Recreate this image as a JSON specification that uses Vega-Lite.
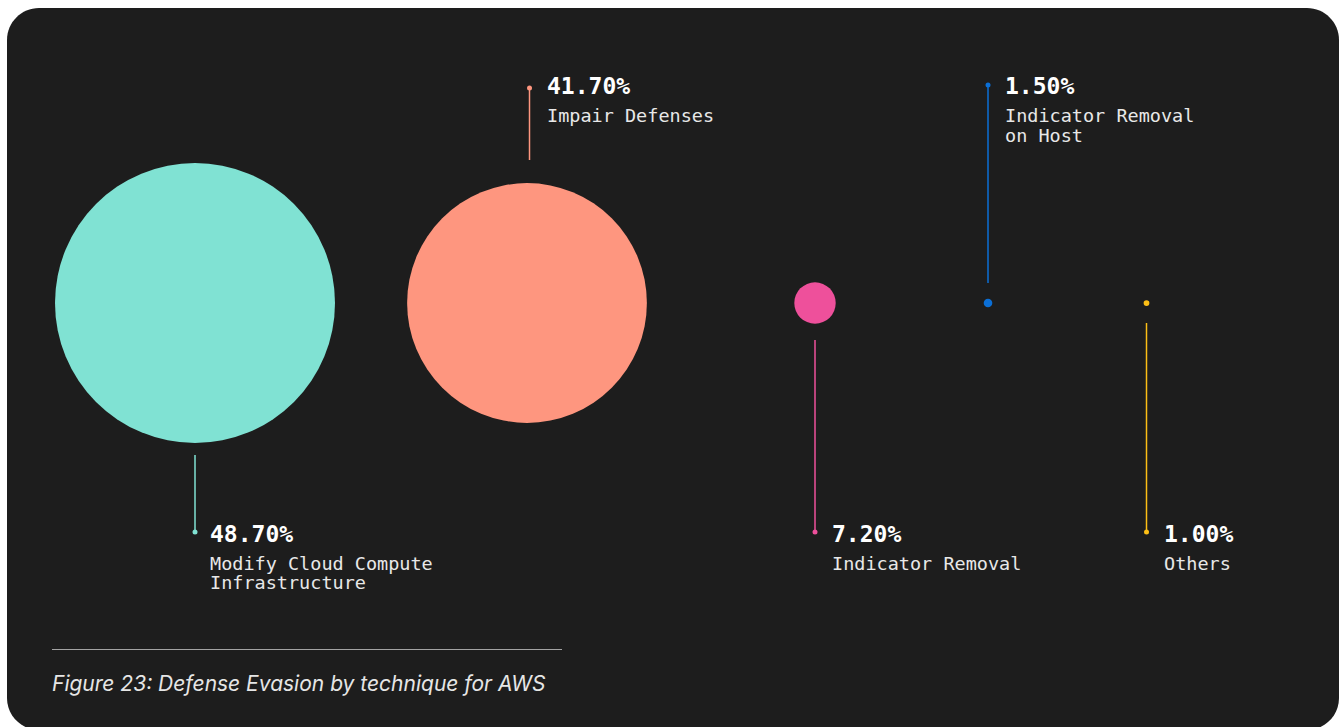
{
  "$schema": "https://vega.github.io/schema/vega-lite/v6.json",
  "width": 1340,
  "height": 727,
  "autosize": {"type": "none"},
  "padding": 0,
  "background": "#ffffff",
  "config": {"view": {"stroke": null}},
  "datasets": {
    "panel": [{"x0": 7, "x1": 1339, "y0": 8, "y1": 730}],
    "techniques": [
      {"technique": "Modify Cloud Compute Infrastructure", "share": 48.7, "pct": "48.70%", "label": "Modify Cloud Compute\nInfrastructure", "cx": 195, "cy": 303, "lx": 195, "ly1": 455, "ly2": 532, "dy": 532, "tx": 210, "pty": 541.5, "lby": 569.5},
      {"technique": "Impair Defenses", "share": 41.7, "pct": "41.70%", "label": "Impair Defenses", "cx": 527, "cy": 303, "lx": 529.5, "ly1": 88, "ly2": 160, "dy": 88, "tx": 547, "pty": 93.5, "lby": 122},
      {"technique": "Indicator Removal", "share": 7.2, "pct": "7.20%", "label": "Indicator Removal", "cx": 815, "cy": 303, "lx": 815, "ly1": 340, "ly2": 532, "dy": 532, "tx": 832, "pty": 541.5, "lby": 569.5},
      {"technique": "Indicator Removal on Host", "share": 1.5, "pct": "1.50%", "label": "Indicator Removal\non Host", "cx": 988, "cy": 303, "lx": 988, "ly1": 85, "ly2": 283, "dy": 85, "tx": 1005, "pty": 93.5, "lby": 122},
      {"technique": "Others", "share": 1.0, "pct": "1.00%", "label": "Others", "cx": 1146.5, "cy": 303, "lx": 1146.5, "ly1": 323, "ly2": 532, "dy": 532, "tx": 1164, "pty": 541.5, "lby": 569.5}
    ],
    "caption": [{"x0": 52, "x1": 562, "ly": 649.5, "ty": 691, "text": "Figure 23: Defense Evasion by technique for AWS"}]
  },
  "layer": [
    {
      "data": {"name": "panel"},
      "mark": {"type": "rect", "fill": "#1d1d1d", "cornerRadius": 32},
      "encoding": {
        "x": {"field": "x0", "type": "quantitative", "scale": {"domain": [0, 1340], "nice": false, "zero": false}, "axis": null},
        "x2": {"field": "x1"},
        "y": {"field": "y0", "type": "quantitative", "scale": {"domain": [0, 727], "nice": false, "zero": false, "reverse": true}, "axis": null},
        "y2": {"field": "y1"}
      }
    },
    {
      "data": {"name": "techniques"},
      "layer": [
        {
          "mark": {"type": "rule", "strokeWidth": 1.5},
          "encoding": {
            "x": {"field": "lx", "type": "quantitative"},
            "y": {"field": "ly1", "type": "quantitative"},
            "y2": {"field": "ly2"},
            "color": {"field": "technique", "type": "nominal", "legend": null,
              "scale": {"domain": ["Modify Cloud Compute Infrastructure", "Impair Defenses", "Indicator Removal", "Indicator Removal on Host", "Others"],
                        "range": ["#80e2d3", "#fe967f", "#ee509b", "#0b6fd6", "#fcbf16"]}}
          }
        },
        {
          "mark": {"type": "point", "filled": true, "shape": "circle", "opacity": 1, "strokeWidth": 0},
          "encoding": {
            "x": {"field": "cx", "type": "quantitative"},
            "y": {"field": "cy", "type": "quantitative"},
            "size": {"field": "share", "type": "quantitative", "legend": null,
              "scale": {"type": "pow", "exponent": 2, "domain": [0, 48.7], "range": [0, 78400], "zero": true}},
            "color": {"field": "technique", "type": "nominal", "legend": null}
          }
        },
        {
          "mark": {"type": "point", "filled": true, "shape": "circle", "opacity": 1, "size": 25, "strokeWidth": 0},
          "encoding": {
            "x": {"field": "lx", "type": "quantitative"},
            "y": {"field": "dy", "type": "quantitative"},
            "color": {"field": "technique", "type": "nominal", "legend": null}
          }
        },
        {
          "mark": {"type": "text", "font": "DejaVu Sans Mono", "fontWeight": "bold", "fontSize": 23, "align": "left", "baseline": "alphabetic", "color": "#ffffff"},
          "encoding": {
            "x": {"field": "tx", "type": "quantitative"},
            "y": {"field": "pty", "type": "quantitative"},
            "text": {"field": "pct"}
          }
        },
        {
          "mark": {"type": "text", "font": "DejaVu Sans Mono", "fontSize": 18.5, "lineHeight": 19.5, "lineBreak": "\n", "align": "left", "baseline": "alphabetic", "color": "#e8e8e8"},
          "encoding": {
            "x": {"field": "tx", "type": "quantitative"},
            "y": {"field": "lby", "type": "quantitative"},
            "text": {"field": "label"}
          }
        }
      ]
    },
    {
      "data": {"name": "caption"},
      "layer": [
        {
          "mark": {"type": "rule", "color": "#a3a3a3", "strokeWidth": 1.2},
          "encoding": {
            "x": {"field": "x0", "type": "quantitative"},
            "x2": {"field": "x1"},
            "y": {"field": "ly", "type": "quantitative"}
          }
        },
        {
          "mark": {"type": "text", "font": "Inter", "fontStyle": "italic", "fontSize": 21, "align": "left", "baseline": "alphabetic", "color": "#e6e6e6"},
          "encoding": {
            "x": {"field": "x0", "type": "quantitative"},
            "y": {"field": "ty", "type": "quantitative"},
            "text": {"field": "text"}
          }
        }
      ]
    }
  ]
}
